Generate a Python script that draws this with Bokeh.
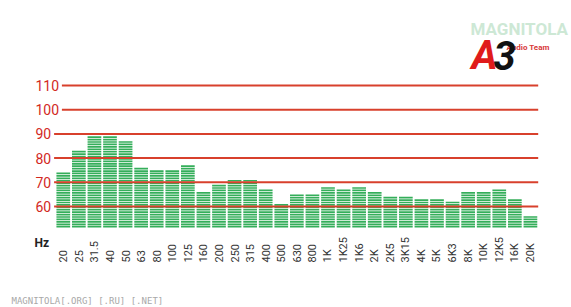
import math
from bokeh.plotting import figure
from bokeh.models import Range1d, ColumnDataSource
from bokeh.embed import file_html
from bokeh.resources import INLINE
from bokeh.core.properties import value

bands = ["20", "25", "31.5", "40", "50", "63", "80", "100", "125", "160", "200",
         "250", "315", "400", "500", "630", "800", "1K", "1K25", "1K6", "2K", "2K5",
         "3K15", "4K", "5K", "6K3", "8K", "10K", "12K5", "16K", "20K"]
levels = [74, 83, 89, 89, 87, 76, 75, 75, 77, 66, 69, 71, 71, 67, 61, 65, 65, 68,
          67, 68, 66, 64, 64, 63, 63, 62, 66, 66, 67, 63, 56]
y_ticks = [60, 70, 80, 90, 100, 110]
base_level = 51
unit_label = "Hz"
footer = "MAGNITOLA[.ORG] [.RU] [.NET]"

RED = "#d8402c"
LABEL_RED = "#d2281e"
GREEN = "#34ae5a"

W, H = 571, 307
# page-pixel geometry of the plotting area
BAR_LEFT_PX, BAR_RIGHT_PX = 55.0, 537.7
Y60_PX, PX_PER_DB = 206.0, 2.42
PX_PER_BAND = (BAR_RIGHT_PX - BAR_LEFT_PX) / len(bands)

def dx(px):
    return (px - BAR_LEFT_PX) / PX_PER_BAND

def dy(py):
    return 60 + (Y60_PX - py) / PX_PER_DB

pos = [i + 0.5 for i in range(len(bands))]

# LED-style segments: one segment per dB step from the base level to the value
seg_x, seg_bottom, seg_top = [], [], []
for x, v in zip(pos, levels):
    for k in range(base_level, v):
        seg_x.append(x)
        seg_bottom.append(k + 0.3)
        seg_top.append(k + 1)
seg_src = ColumnDataSource(dict(x=seg_x, bottom=seg_bottom, top=seg_top))

p = figure(width=W, height=H, output_backend="svg", toolbar_location=None,
           x_range=Range1d(dx(0), dx(W)), y_range=Range1d(dy(H), dy(0)),
           min_border=0)
p.outline_line_color = None
p.background_fill_color = "white"
p.border_fill_color = "white"
p.axis.visible = False
p.grid.visible = False

p.vbar(x="x", bottom="bottom", top="top", width=0.88, source=seg_src,
       fill_color=GREEN, line_color=None)

# level lines with their labels (left-aligned labels, line starts after label)
tick_txt = [str(t) for t in y_ticks]
line_x0 = [dx(35 + 7.8 * len(s) + 3) for s in tick_txt]
p.segment(x0=line_x0, y0=y_ticks, x1=[len(bands)] * len(y_ticks), y1=y_ticks,
          line_color=RED, line_width=2)
p.text(x=[dx(35)] * len(y_ticks), y=y_ticks, text=tick_txt,
       text_align="left", text_baseline="middle", text_font_size="14px",
       text_color=LABEL_RED, text_font=value("Roboto"))

# band labels
p.text(x=pos, y=[dy(262)] * len(bands), text=bands, angle=math.pi / 2,
       text_align="left", text_baseline="middle", text_font_size="11px",
       text_color="#333333", text_font=value("Roboto"))

p.text(x=[dx(34)], y=[dy(242)], text=[unit_label], text_font=value("Roboto"),
       text_font_style="bold", text_font_size="12px", text_color="#222222",
       text_baseline="alphabetic")
p.text(x=[dx(11)], y=[dy(300)], text=[footer], text_font=value("DejaVu Sans Mono"),
       text_font_size="9px", text_color="#a8a8a8", text_baseline="alphabetic")

# logo
p.text(x=[dx(470)], y=[dy(28)], text=["MAGNITOLA"], text_font=value("Roboto"),
       text_font_style="bold", text_font_size="17px", text_color="#cde8d5",
       text_baseline="alphabetic")
p.text(x=[dx(506)], y=[dy(46.5)], text=["Audio Team"], text_font=value("Roboto"),
       text_font_style="bold", text_font_size="8px", text_color="#d83a3a",
       text_baseline="alphabetic")
p.text(x=[dx(471)], y=[dy(55)], text=["A"], text_font=value("Roboto"),
       text_font_style="bold italic", text_font_size="40px", text_color="#e01b1b",
       text_baseline="alphabetic")
p.text(x=[dx(493)], y=[dy(55)], text=["3"], text_font=value("Roboto"),
       text_font_style="bold italic", text_font_size="40px", text_color="#111111",
       text_baseline="alphabetic")

open("out.html", "w").write(file_html(p, INLINE))
